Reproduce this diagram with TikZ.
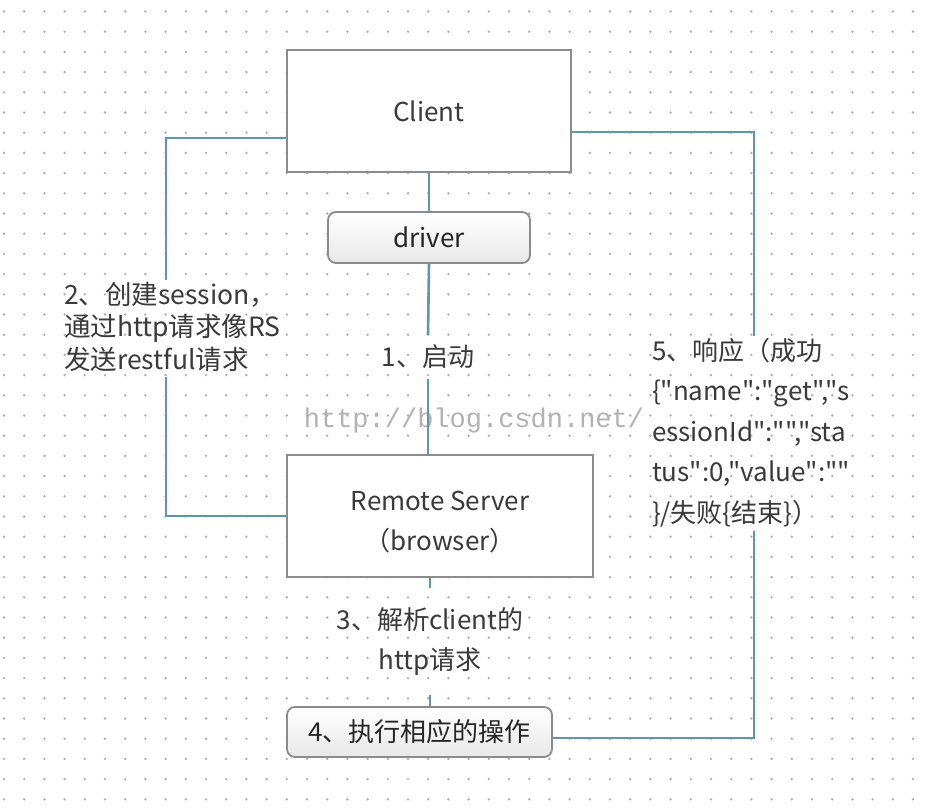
\documentclass[tikz,border=0pt]{standalone}
\usepackage{fontspec}
\setmainfont{Noto Sans CJK SC}[Ligatures=TeXOff]
\setmonofont{Liberation Mono}
\definecolor{connc}{RGB}{96,150,172}
\definecolor{boxline}{RGB}{140,140,140}
\definecolor{txt}{RGB}{58,58,58}
\definecolor{dotc}{RGB}{172,172,172}
\begin{document}
\begin{tikzpicture}[x=1pt,y=-1pt,
  box/.style={draw=boxline,line width=2pt,fill=white,text=txt,align=center,
    font=\fontsize{26}{40}\selectfont,inner sep=0pt},
  rbox/.style={draw=boxline,line width=1.8pt,rounded corners=8pt,top color=white,
    bottom color=black!9,text=black!85,font=\fontsize{26}{32}\selectfont,inner sep=0pt},
  conn/.style={draw=connc,line width=2.6pt},
  lab/.style={text=txt,inner sep=0pt,outer sep=0pt}
]
\useasboundingbox (0,0) rectangle (934,808);
\fill[white] (0,0) rectangle (934,808);
% dot grid
\foreach \i in {0,...,45}{
  \foreach \j in {0,...,39}{
    \fill[dotc] (4+20.2*\i,11.5+20.2*\j) circle (1.3pt);
  }
}
% nodes
\node[box,minimum width=284pt,minimum height=122pt] (client) at (429,111) {Client};
\node[rbox,minimum width=202pt,minimum height=51pt] (driver) at (429,237.5) {driver};
\node[box,minimum width=306pt,minimum height=122pt] (remote) at (440,516) {\rule{0pt}{31pt}Remote Server\\（browser）};
\node[rbox,minimum width=265pt,minimum height=50pt] (act) at (419.5,732) {4、执行相应的操作};

\node[text=black!30,font=\fontsize{27}{27}\ttfamily] (wm) at (474,421) {http://blog.csdn.net/};

\node[lab,font=\fontsize{26}{32}\selectfont,minimum height=44pt] (lab1) at (428,357) {1、启动};
\node[lab,font=\fontsize{26.5}{32.5}\selectfont,align=left,anchor=north west] (lab2) at (64,282)
  {2、创建session，\\通过http请求像RS\\发送restful请求};
\node[lab,font=\fontsize{26}{40}\selectfont,align=center,minimum height=107pt] (lab3) at (430,641.5)
  {3、解析client的\\http请求};
\node[lab,font=\fontsize{26}{40.5}\selectfont,align=left,anchor=north west] (lab5) at (652,338)
  {5、响应（成功\\\{"name":"get","s\\essionId":"","sta\\tus":0,"value":""\\\}/失败\{结束\}）};

\coordinate (L) at (166,0);
\coordinate (R) at (754,0);

% connectors
\draw[conn] (client.south) -- (driver.north);
\draw[conn] (driver.south) -- (lab1.north);
\draw[conn] (lab1.south) -- (lab1.south |- remote.north);
\draw[conn] (lab3.north |- remote.south) -- (lab3.north);
\draw[conn] (lab3.south) -- (lab3.south |- act.north);
\draw[conn] ([yshift=-27pt]client.west) -| ([yshift=2pt]lab2.north -| L);
\draw[conn] ([yshift=-6pt]lab2.south -| L) |- (remote.west);
\draw[conn] ([yshift=-21pt]client.east) -| ([yshift=2pt]lab5.north -| R);
\draw[conn] ([yshift=-4pt]lab5.south -| R) |- ([yshift=-6pt]act.east);
\end{tikzpicture}
\end{document}
